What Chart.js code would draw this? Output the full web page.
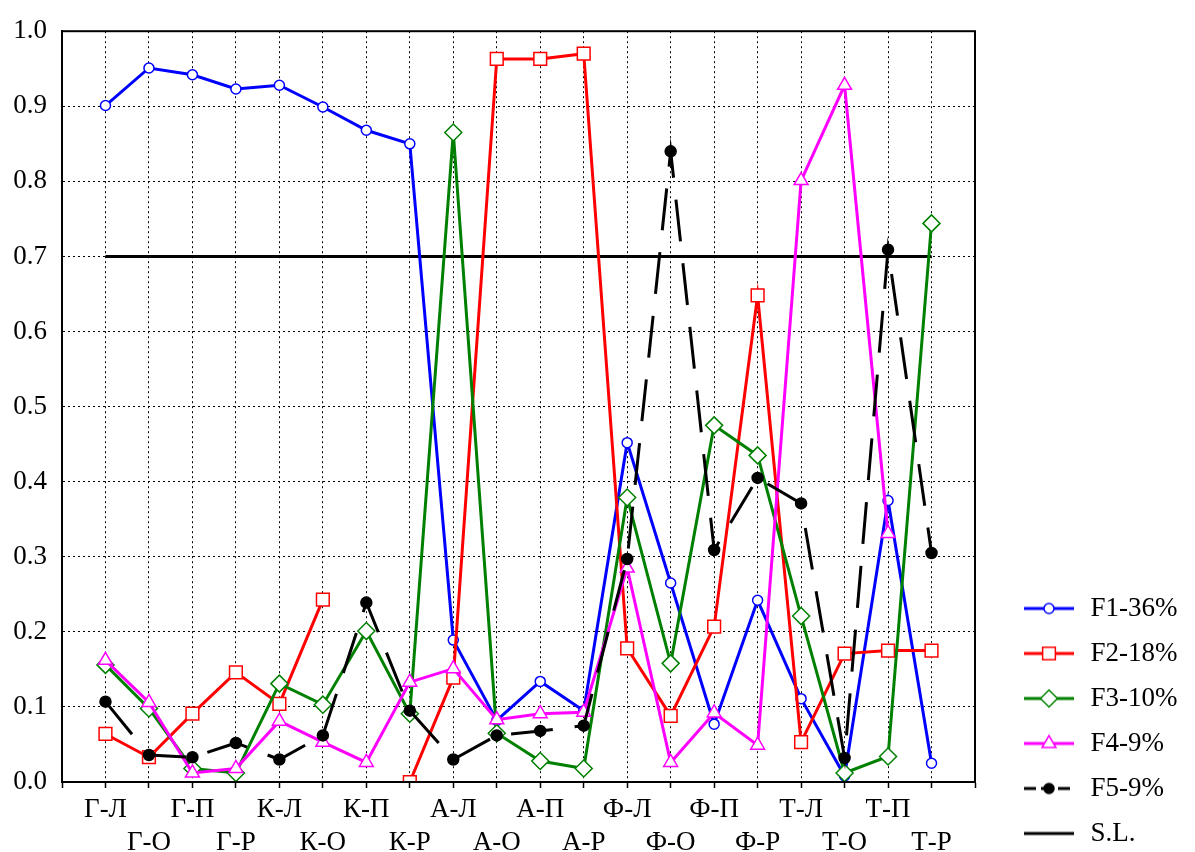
<!DOCTYPE html>
<html>
<head>
<meta charset="utf-8">
<script src="https://cdn.jsdelivr.net/npm/chart.js@4.4.1/dist/chart.umd.min.js"></script>
<style>
    html, body { margin: 0; padding: 0; background: #fff; }
    #wrap { width: 1195px; height: 852px; }
</style>
</head>
<body>
<div id="wrap"><canvas id="LoadChart"></canvas></div>
<script>
const categories = ["Г-Л", "Г-О", "Г-П", "Г-Р", "К-Л", "К-О", "К-П", "К-Р", "А-Л", "А-О",
                    "А-П", "А-Р", "Ф-Л", "Ф-О", "Ф-П", "Ф-Р", "Т-Л", "Т-О", "Т-П", "Т-Р"];

const f1 = [0.901, 0.951, 0.942, 0.923, 0.928, 0.899, 0.868, 0.850, 0.189, 0.082,
            0.134, 0.095, 0.452, 0.265, 0.077, 0.242, 0.111, 0.008, 0.375, 0.025];
const f2 = [0.064, 0.033, 0.091, 0.146, 0.104, 0.243, null, 0.000, 0.139, 0.963,
            0.963, 0.970, 0.178, 0.088, 0.207, 0.648, 0.053, 0.171, 0.175, 0.175];
const f3 = [0.156, 0.098, 0.018, 0.012, 0.131, 0.103, 0.201, 0.091, 0.865, 0.065,
            0.028, 0.018, 0.379, 0.158, 0.475, 0.435, 0.221, 0.012, 0.034, 0.744];
const f4 = [0.162, 0.106, 0.012, 0.018, 0.081, 0.053, 0.026, 0.133, 0.151, 0.083,
            0.091, 0.093, 0.285, 0.026, 0.092, 0.049, 0.801, 0.928, 0.331, null];
const f5 = [0.107, 0.036, 0.033, 0.052, 0.030, 0.062, 0.239, 0.095, 0.030, 0.062,
            0.068, 0.075, 0.297, 0.840, 0.309, 0.405, 0.371, 0.032, 0.709, 0.305];
const sl = [0.7, 0.7, 0.7, 0.7, 0.7, 0.7, 0.7, 0.7, 0.7, 0.7,
            0.7, 0.7, 0.7, 0.7, 0.7, 0.7, 0.7, 0.7, 0.7, 0.7];

const seriesNames = ["F1-36%", "F2-18%", "F3-10%", "F4-9%", "F5-9%", "S.L."];

const FONT = "'Liberation Serif', 'Times New Roman', serif";
const FS = 27;          // text size
const LEG_PAD = 18;     // legend row gap
const SAMPLE_W = 84;    // legend sample width
Chart.defaults.font.family = FONT;
Chart.defaults.color = "#000";

function toPoints(values) {
    return values.map((v, i) => ({ x: i, y: v }));
}

// legend sample: short line with the marker in the middle
function legendSample(color, style, radius, fill, dashed) {
    const c = document.createElement("canvas");
    c.width = SAMPLE_W;
    c.height = 26;
    const g = c.getContext("2d");
    g.strokeStyle = color;
    g.lineWidth = 3;
    if (dashed) g.setLineDash([12, 5]);
    g.beginPath();
    g.moveTo(31, 13);
    g.lineTo(81, 13);
    g.stroke();
    g.setLineDash([]);
    if (style) {
        g.fillStyle = fill;
        g.lineWidth = 1.5;
        Chart.helpers.drawPoint(g, { pointStyle: style, radius: radius, rotation: 0, borderWidth: 1.5 }, 56, 13);
    }
    return c;
}

const samples = [
    legendSample("#0000ff", "circle", 5, "#fff"),
    legendSample("#ff0000", "rect", 9, "#fff"),
    legendSample("#008000", "rectRot", 8.5, "#fff"),
    legendSample("#ff00ff", "triangle", 8, "#fff"),
    legendSample("#000", "circle", 5, "#000", true),
    legendSample("#000", null),
];

// size the right margin so the plot ends where the reference frame does
const meas = document.createElement("canvas").getContext("2d");
meas.font = FS + "px " + FONT;
const textW = Math.max(...seriesNames.map(n => meas.measureText(n).width));
const legendW = LEG_PAD + SAMPLE_W + FS / 2 + textW + 10;
const padRight = Math.max(0, 1195 - 975 - legendW);
const padBottom = -13;

const frame = {
    id: "frame",
    afterDraw(chart) {
        const { ctx, chartArea: a } = chart;
        ctx.save();
        ctx.strokeStyle = "#000";
        ctx.lineWidth = 2;
        ctx.strokeRect(a.left, a.top, a.right - a.left, a.bottom - a.top);
        ctx.restore();
    },
};

function line(label, values, color, style, radius, fill, order) {
    return {
        label: label,
        data: toPoints(values),
        borderColor: color,
        backgroundColor: color,
        borderWidth: 3,
        pointStyle: style,
        pointRadius: radius,
        pointBackgroundColor: fill,
        pointBorderColor: color,
        pointBorderWidth: 1.5,
        tension: 0,
        spanGaps: false,
        order: order,
    };
}

const ctx = document.getElementById("LoadChart");

new Chart(ctx, {
    type: "line",
    data: {
        datasets: [
            line(seriesNames[0], f1, "#0000ff", "circle", 5, "#fff", 5),
            line(seriesNames[1], f2, "#ff0000", "rect", 9, "#fff", 4),
            line(seriesNames[2], f3, "#008000", "rectRot", 8.5, "#fff", 3),
            line(seriesNames[3], f4, "#ff00ff", "triangle", 8, "#fff", 2),
            Object.assign(line(seriesNames[4], f5, "#000", "circle", 5.5, "#000", 1), { borderDash: [42, 22] }),
            Object.assign(line(seriesNames[5], sl, "#000", "circle", 0, "#000", 6), { pointRadius: 0 }),
        ],
    },
    options: {
        responsive: true,
        maintainAspectRatio: false,
        animation: false,
        events: [],
        layout: {
            padding: { top: 27, left: 0, right: padRight, bottom: padBottom },
        },
        plugins: {
            tooltip: { enabled: false },
            legend: {
                position: "right",
                align: "end",
                labels: {
                    usePointStyle: true,
                    pointStyleWidth: SAMPLE_W,
                    padding: LEG_PAD,
                    color: "#000",
                    font: { size: FS },
                    generateLabels: (chart) => chart.data.datasets.map((ds, i) => ({
                        text: ds.label,
                        pointStyle: samples[i],
                        datasetIndex: i,
                        hidden: false,
                        lineWidth: 0,
                        fillStyle: ds.borderColor,
                        strokeStyle: ds.borderColor,
                        fontColor: "#000",
                    })),
                },
            },
        },
        scales: {
            x: {
                type: "linear",
                min: -1,
                max: 20,
                afterFit: (scale) => { scale.height = 852 - padBottom - 782; },
                ticks: {
                    stepSize: 1,
                    autoSkip: false,
                    maxRotation: 0,
                    minRotation: 0,
                    padding: 6,
                    color: "#000",
                    font: { size: FS, lineHeight: 1.2 },
                    callback: (v) => {
                        const i = Math.round(v);
                        if (i < 0 || i >= categories.length) return "";
                        return i % 2 === 0 ? categories[i] : ["", categories[i]];
                    },
                },
                grid: {
                    color: "#000",
                    lineWidth: 1,
                    drawTicks: true,
                    tickLength: 6,
                    tickColor: "#000",
                    tickWidth: 1.5,
                },
                border: { display: true, color: "#000", width: 2, dash: [2, 3] },
            },
            y: {
                min: 0,
                max: 1,
                afterFit: (scale) => { scale.width = 62; },
                ticks: {
                    stepSize: 0.1,
                    padding: 15,
                    color: "#000",
                    font: { size: FS },
                    callback: (v) => v.toFixed(1),
                },
                grid: {
                    color: "#000",
                    lineWidth: 1,
                    drawTicks: false,
                },
                border: { display: true, color: "#000", width: 2, dash: [2, 3] },
            },
        },
    },
    plugins: [frame],
});
</script>
</body>
</html>
